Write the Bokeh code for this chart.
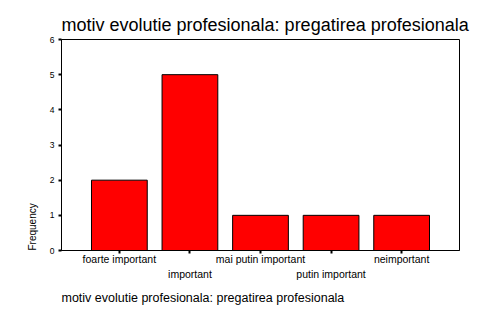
import math
from bokeh.plotting import figure
from bokeh.models import FixedTicker, LinearAxis, Title, Range1d
from bokeh.embed import file_html
from bokeh.resources import INLINE

categories = ["foarte important", "important", "mai putin important", "putin important", "neimportant"]
frequency = [2, 5, 1, 1, 1]
y_ticks = [0, 1, 2, 3, 4, 5, 6]
title_text = "motiv evolutie profesionala: pregatirea profesionala"

FONT = "Liberation Sans"
xs = list(range(1, len(categories) + 1))

p = figure(width=480, height=311, output_backend="svg", toolbar_location=None,
           x_range=Range1d(0.18, 5.82), y_range=Range1d(0, 6),
           min_border_left=61, min_border_right=21, min_border_top=39, min_border_bottom=61)
p.title.text = title_text
p.title.text_font = FONT
p.title.text_font_size = "18px"
p.title.text_font_style = "normal"
p.title.text_color = "black"
p.title.offset = 0
p.title.standoff = 9

p.vbar(x=xs, top=frequency, width=0.79, fill_color="#FF0000", line_color="black", line_width=1)

p.xgrid.visible = False
p.ygrid.visible = False
p.outline_line_color = "black"
p.outline_line_width = 1
p.background_fill_color = "white"
p.border_fill_color = "white"

# y axis
ya = p.yaxis[0]
ya.ticker = FixedTicker(ticks=y_ticks)
ya.major_tick_in = 0
ya.major_tick_out = 3
ya.minor_tick_line_color = None
ya.major_label_text_font = FONT
ya.major_label_text_font_size = "8.5px"
ya.major_label_text_color = "black"
ya.major_label_standoff = 4
ya.axis_line_color = "black"
ya.major_tick_line_width = 2

# x axis row 1
xa = p.xaxis[0]
xa.ticker = FixedTicker(ticks=xs)
xa.major_label_overrides = {x: (c if x % 2 == 1 else "") for x, c in zip(xs, categories)}
xa.major_tick_in = 0
xa.major_tick_out = 3
xa.major_tick_line_width = 2
xa.minor_tick_line_color = None
xa.major_label_text_font = FONT
xa.major_label_text_font_size = "10.5px"
xa.major_label_text_color = "black"
xa.major_label_standoff = -1

# x axis row 2 (staggered)
xa2 = LinearAxis(ticker=FixedTicker(ticks=[x for x in xs if x % 2 == 0]),
                 major_label_overrides={x: c for x, c in zip(xs, categories) if x % 2 == 0},
                 axis_line_color=None, major_tick_line_color=None, minor_tick_line_color=None,
                 major_label_text_font=FONT, major_label_text_font_size="10.5px",
                 major_label_text_color="black", major_label_standoff=-6)
p.add_layout(xa2, "below")

p.add_layout(Title(text=title_text, text_font=FONT, text_font_size="12.5px",
                   text_font_style="normal", text_color="black", standoff=13, offset=0), "below")

p.add_layout(Title(text="Frequency", text_font=FONT, text_font_size="10px",
                   text_font_style="normal", text_color="black", align="left",
                   offset=0, standoff=17), "left")

open("out.html", "w").write(file_html(p, INLINE))
